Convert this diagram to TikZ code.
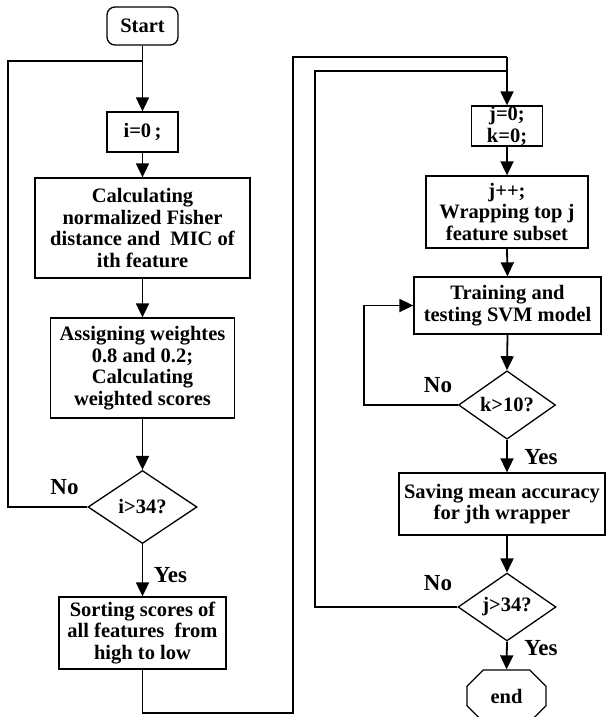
\documentclass[tikz,border=0pt]{standalone}
\usepackage{fontspec}
\setmainfont{Liberation Serif}
\usetikzlibrary{arrows.meta,shapes.geometric,shapes.misc}
\begin{document}
\begin{tikzpicture}[x=1pt,y=-1pt,
  txt/.style={font=\fontsize{20.5}{21.7}\selectfont\bfseries},
  box/.style={txt, draw, line width=1.3pt, inner sep=0pt, align=center},
  dec/.style={txt, draw, diamond, line width=1.3pt, inner sep=0pt},
  lbl/.style={font=\fontsize{23}{25}\selectfont\bfseries, inner sep=0pt},
  conn/.style={line width=1.8pt},
  arr/.style={conn, -{Triangle[width=13pt,length=14pt]}}]
\useasboundingbox (0,0) rectangle (606,717);
% left column
\node[box, rounded corners=8pt, minimum width=71pt, minimum height=38pt] (start) at (142.5,26) {Start};
\node[box, minimum width=71pt, minimum height=40pt] (i0) at (142.5,132) {i=0\,;};
\node[box, minimum width=215pt, minimum height=100pt] (calc) at (142.5,228) {Calculating\\normalized Fisher\\distance and~ MIC of\\ith feature};
\node[box, minimum width=184pt, minimum height=100pt] (assign) at (142.5,368) {Assigning weightes\\0.8 and 0.2;\\Calculating\\weighted scores};
\node[dec, minimum width=109pt, minimum height=73pt] (d1) at (142.5,507) {i>34?};
\node[box, minimum width=167pt, minimum height=72pt] (sort) at (142.5,633) {Sorting scores of\\all features~ from\\high to low};
% right column
\node[box, minimum width=71pt, minimum height=40pt] (j0) at (507,126) {j=0;\\k=0;};
\node[box, minimum width=162pt, minimum height=72pt] (jpp) at (507,212) {j++;\\Wrapping top j\\feature subset};
\node[box, minimum width=187pt, minimum height=57pt] (train) at (507.5,305.5) {Training and\\testing SVM model};
\node[dec, minimum width=97pt, minimum height=66pt] (d2) at (507,405) {k>10?};
\node[box, minimum width=206pt, minimum height=62pt] (save) at (502,504) {Saving mean accuracy\\for jth wrapper};
\node[dec, minimum width=98pt, minimum height=66pt] (d3) at (507,607) {j>34?};
\node[box, chamfered rectangle, chamfered rectangle xsep=9pt, chamfered rectangle ysep=9pt, minimum width=79pt, minimum height=52pt] (end) at (506.5,696) {end};
% labels
\node[lbl] (no1) at (64.5,487) {No};
\node[lbl] (yes1) at (170.5,575) {Yes};
\node[lbl] (no2) at (438,385) {No};
\node[lbl] (yes2) at (541,457) {Yes};
\node[lbl] (no3) at (438,583) {No};
\node[lbl] (yes3) at (541,648) {Yes};
% coordinates
\coordinate (m1) at (142.5,61);
\coordinate (l1) at (8,507);
\coordinate (c1) at (293,713);
\coordinate (c2) at (293,57);
\coordinate (m2) at (507,57);
\coordinate (c3) at (315,71);
\coordinate (m3) at (507,71);
\coordinate (c4) at (364,305.5);
% connectors
\draw[arr] (start.south) -- (i0.north);
\draw[conn] (d1.west) -- (l1) |- (m1);
\draw[arr] (i0.south) -- (calc.north);
\draw[arr] (calc.south) -- (assign.north);
\draw[arr] (assign.south) -- (d1.north);
\draw[arr] (d1.south) -- (sort.north);
\draw[conn] (sort.south) |- (c1) -- (c2) -- (m2);
\draw[conn] (d3.west) -| (c3) -- (m3);
\draw[arr] (m2) -- (j0.north);
\draw[arr] (j0.south) -- (jpp.north);
\draw[arr] (jpp.south) -- (train.north);
\draw[arr] (train.south) -- (d2.north);
\draw[arr] (d2.west) -| (c4) -- (train.west);
\draw[arr] (d2.south) -- (d2.south |- save.north);
\draw[arr] (save.south -| d3.north) -- (d3.north);
\draw[arr] (d3.south) -- (end.north);
\end{tikzpicture}
\end{document}
